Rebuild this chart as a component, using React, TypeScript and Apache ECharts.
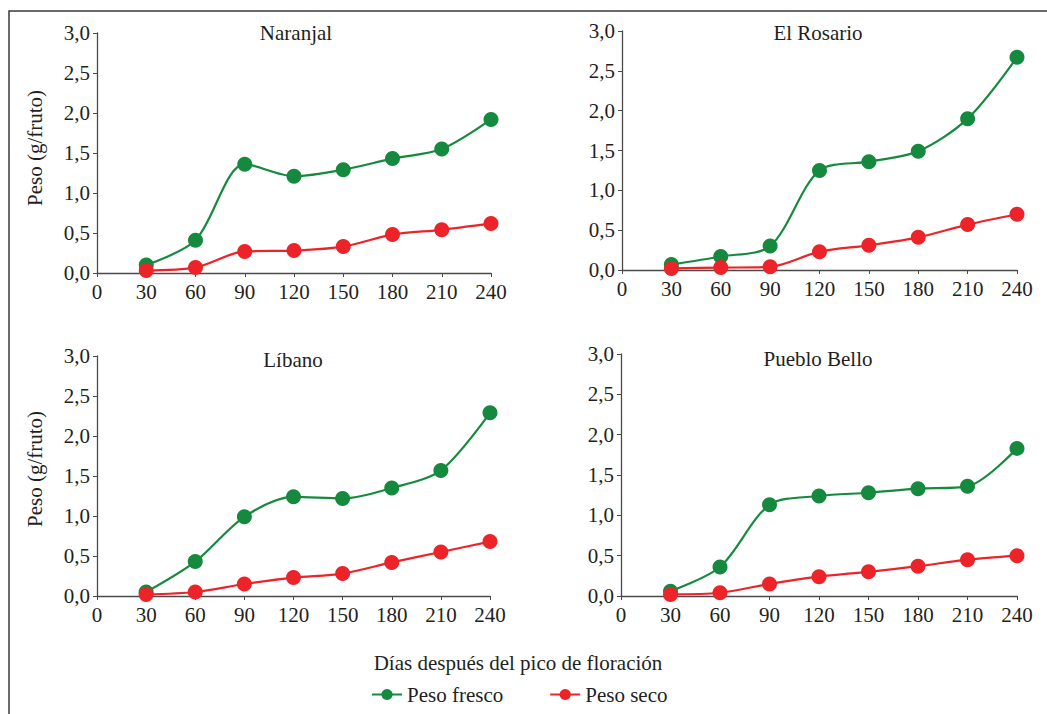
import React, { useEffect, useRef } from "react";
import * as echarts from "echarts";

// Days after peak flowering
const days = [30, 60, 90, 120, 150, 180, 210, 240];

// Fruit weight (g/fruto) per site
const naranjalFresco = [0.1, 0.41, 1.36, 1.21, 1.29, 1.43, 1.55, 1.92];
const naranjalSeco = [0.03, 0.07, 0.27, 0.28, 0.33, 0.48, 0.54, 0.62];
const rosarioFresco = [0.07, 0.17, 0.3, 1.25, 1.36, 1.49, 1.9, 2.67];
const rosarioSeco = [0.02, 0.03, 0.04, 0.23, 0.31, 0.41, 0.57, 0.7];
const libanoFresco = [0.05, 0.43, 0.99, 1.24, 1.22, 1.35, 1.57, 2.29];
const libanoSeco = [0.02, 0.05, 0.15, 0.23, 0.28, 0.42, 0.55, 0.68];
const puebloFresco = [0.06, 0.36, 1.13, 1.24, 1.28, 1.33, 1.36, 1.83];
const puebloSeco = [0.02, 0.04, 0.15, 0.24, 0.3, 0.37, 0.45, 0.5];

const siteNames = ["Naranjal", "El Rosario", "Líbano", "Pueblo Bello"];
const frescoBySite = [naranjalFresco, rosarioFresco, libanoFresco, puebloFresco];
const secoBySite = [naranjalSeco, rosarioSeco, libanoSeco, puebloSeco];

const FONT = "Liberation Serif";
const FS = 21;
const TEXT = "#231f20";
const AXIS = "#4a4a4a";
const GREEN = "#158a3e";
const RED = "#ec2329";

// Panel placement in pixels: [left, top, width, height]
const panels = [
  [97, 33, 394, 240],
  [622, 31, 395, 239],
  [97, 356, 393, 240],
  [621, 354, 396, 242],
];
// Panel heading positions: [centre x, centre y]
const headingPos = [
  [296, 33],
  [818, 33],
  [293, 360],
  [818, 359],
];

export default function App() {
  const ref = useRef<HTMLDivElement>(null);

  useEffect(() => {
    if (!ref.current) return;
    const chart = echarts.init(ref.current, null, { renderer: "svg" });

    const fmt = (v: number) => v.toFixed(1).replace(".", ",");

    const grid = panels.map(([l, t, w, h]) => ({
      left: l,
      top: t,
      width: w,
      height: h,
    }));

    const xAxis = panels.map((_, i) => ({
      type: "value",
      gridIndex: i,
      min: 0,
      max: 240,
      interval: 30,
      axisLine: { show: true, lineStyle: { color: AXIS, width: 1.3 } },
      axisTick: { show: true, length: 4, lineStyle: { color: AXIS } },
      splitLine: { show: false },
      axisLabel: { color: TEXT, fontFamily: FONT, fontSize: FS, margin: 8 },
    }));

    const yAxis = panels.map((_, i) => ({
      type: "value",
      gridIndex: i,
      min: 0,
      max: 3,
      interval: 0.5,
      axisLine: { show: true, lineStyle: { color: AXIS, width: 1.3 } },
      axisTick: { show: true, length: 4, lineStyle: { color: AXIS } },
      splitLine: { show: false },
      axisLabel: {
        color: TEXT,
        fontFamily: FONT,
        fontSize: FS,
        margin: 7,
        formatter: fmt,
      },
    }));

    const series: any[] = [];
    panels.forEach((_, i) => {
      series.push({
        name: "Peso fresco",
        type: "line",
        xAxisIndex: i,
        yAxisIndex: i,
        data: days.map((d, k) => [d, frescoBySite[i][k]]),
        smooth: 0.3,
        symbol: "circle",
        symbolSize: 15,
        itemStyle: { color: GREEN },
        lineStyle: { color: GREEN, width: 2.2 },
        z: 2,
      });
      series.push({
        name: "Peso seco",
        type: "line",
        xAxisIndex: i,
        yAxisIndex: i,
        data: days.map((d, k) => [d, secoBySite[i][k]]),
        smooth: 0.3,
        symbol: "circle",
        symbolSize: 15,
        itemStyle: { color: RED },
        lineStyle: { color: RED, width: 2.2 },
        z: 3,
      });
    });

    const headings = headingPos.map(([cx, cy], i) => ({
      type: "text",
      x: cx,
      y: cy,
      style: {
        text: siteNames[i],
        fill: TEXT,
        fontFamily: FONT,
        fontSize: FS,
        align: "center",
        verticalAlign: "middle",
      },
    }));

    const yName = (cx: number, cy: number) => ({
      type: "text",
      x: cx,
      y: cy,
      rotation: Math.PI / 2,
      style: {
        text: "Peso (g/fruto)",
        fill: TEXT,
        fontFamily: FONT,
        fontSize: FS,
        align: "center",
        verticalAlign: "middle",
      },
    });

    chart.setOption({
      animation: false,
      backgroundColor: "#ffffff",
      grid,
      xAxis,
      yAxis,
      series,
      legend: {
        data: ["Peso fresco", "Peso seco"],
        left: 366,
        top: 679,
        itemWidth: 30,
        itemHeight: 14,
        itemGap: 46,
        textStyle: { color: TEXT, fontFamily: FONT, fontSize: FS },
      },
      graphic: [
        {
          type: "rect",
          shape: { x: 9, y: 11, width: 1200, height: 900 },
          style: { fill: "none", stroke: "#3a3a3a", lineWidth: 1.5 },
          silent: true,
        },
        ...headings,
        yName(35, 148),
        yName(35, 469),
        {
          type: "text",
          x: 518,
          y: 663,
          style: {
            text: "Días después del pico de floración",
            fill: TEXT,
            fontFamily: FONT,
            fontSize: FS,
            align: "center",
            verticalAlign: "middle",
          },
        },
      ],
    });

    return () => chart.dispose();
  }, []);

  return (
    <div
      ref={ref}
      style={{ position: "fixed", left: 0, top: 0, width: 1047, height: 714 }}
    />
  );
}
